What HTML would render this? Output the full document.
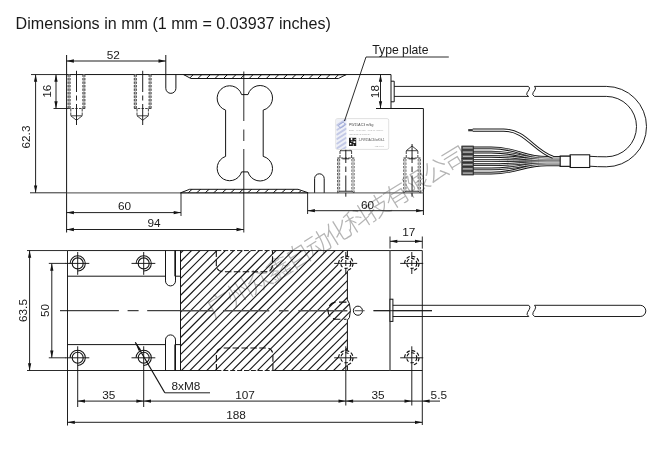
<!DOCTYPE html>
<html><head><meta charset="utf-8"><title>Dimensions</title>
<style>html,body{margin:0;padding:0;background:#fff;}body{width:659px;height:449px;overflow:hidden;font-family:"Liberation Sans",sans-serif;}svg{display:block;will-change:transform;}text{filter:grayscale(1);}</style>
</head><body>
<svg width="659" height="449" viewBox="0 0 659 449" font-family="'Liberation Sans', sans-serif">
<rect width="659" height="449" fill="#fff"/>
<g transform="translate(214.3 318.2) rotate(-31.8)" fill="#b4b4b4">
<text x="-1.05 22.05 45.15 68.25 91.35 114.45 137.55 160.65 183.75 206.85 229.95 253.05 276.15" y="0.8" font-size="25.6" font-weight="300" text-anchor="start" fill="#b4b4b4" font-family="'Liberation Sans', 'Noto Sans CJK SC', sans-serif">广州众鑫自动化科技有限公司</text>
</g>
<text x="15.6" y="28.8" font-size="16.1" text-anchor="start" fill="#1a1a1a">Dimensions in mm (1 mm = 0.03937 inches)</text>
<path d="M66.6 55 V232.5" stroke="#141414" stroke-width="1.0" fill="none" />
<path d="M66.6 74.55 H391.0 V108.5 M376 108.5 H423.4 V215" stroke="#141414" stroke-width="1.0" fill="none" />
<path d="M66.6 192.8 H181 M308.5 192.8 H423.4" stroke="#6c6c6c" stroke-width="1.35" fill="none" />
<path d="M183.6 74.55 L190.8 78.5 H338.4 L346.2 74.55" stroke="#141414" stroke-width="1.0" fill="none" />
<line x1="183.6" y1="74.55" x2="346.2" y2="74.55" stroke="#141414" stroke-width="1.15" />
<clipPath id="b1"><path d="M184.5 74.55 L191 78.5 H338.4 L345.5 74.55 Z"/></clipPath><g clip-path="url(#b1)">
<line x1="188.8" y1="79.0" x2="193.8" y2="74.05" stroke="#111" stroke-width="1.0" />
<line x1="197.35000000000002" y1="79.0" x2="202.35000000000002" y2="74.05" stroke="#111" stroke-width="1.0" />
<line x1="205.90000000000003" y1="79.0" x2="210.90000000000003" y2="74.05" stroke="#111" stroke-width="1.0" />
<line x1="214.45000000000005" y1="79.0" x2="219.45000000000005" y2="74.05" stroke="#111" stroke-width="1.0" />
<line x1="223.00000000000006" y1="79.0" x2="228.00000000000006" y2="74.05" stroke="#111" stroke-width="1.0" />
<line x1="231.55000000000007" y1="79.0" x2="236.55000000000007" y2="74.05" stroke="#111" stroke-width="1.0" />
<line x1="240.10000000000008" y1="79.0" x2="245.10000000000008" y2="74.05" stroke="#111" stroke-width="1.0" />
<line x1="248.6500000000001" y1="79.0" x2="253.6500000000001" y2="74.05" stroke="#111" stroke-width="1.0" />
<line x1="257.2000000000001" y1="79.0" x2="262.2000000000001" y2="74.05" stroke="#111" stroke-width="1.0" />
<line x1="265.7500000000001" y1="79.0" x2="270.7500000000001" y2="74.05" stroke="#111" stroke-width="1.0" />
<line x1="274.3000000000001" y1="79.0" x2="279.3000000000001" y2="74.05" stroke="#111" stroke-width="1.0" />
<line x1="282.85000000000014" y1="79.0" x2="287.85000000000014" y2="74.05" stroke="#111" stroke-width="1.0" />
<line x1="291.40000000000015" y1="79.0" x2="296.40000000000015" y2="74.05" stroke="#111" stroke-width="1.0" />
<line x1="299.95000000000016" y1="79.0" x2="304.95000000000016" y2="74.05" stroke="#111" stroke-width="1.0" />
<line x1="308.50000000000017" y1="79.0" x2="313.50000000000017" y2="74.05" stroke="#111" stroke-width="1.0" />
<line x1="317.0500000000002" y1="79.0" x2="322.0500000000002" y2="74.05" stroke="#111" stroke-width="1.0" />
<line x1="325.6000000000002" y1="79.0" x2="330.6000000000002" y2="74.05" stroke="#111" stroke-width="1.0" />
<line x1="334.1500000000002" y1="79.0" x2="339.1500000000002" y2="74.05" stroke="#111" stroke-width="1.0" />
</g>
<path d="M180.6 192.8 L189.6 189.3 H298 L308.3 192.8" stroke="#141414" stroke-width="1.0" fill="none" />
<line x1="180.6" y1="192.8" x2="308.3" y2="192.8" stroke="#141414" stroke-width="1.15" />
<clipPath id="b2"><path d="M181.5 192.8 L190 189.3 H297.8 L307 192.8 Z"/></clipPath><g clip-path="url(#b2)">
<line x1="179.15" y1="193.3" x2="184.15" y2="188.8" stroke="#111" stroke-width="1.0" />
<line x1="187.65" y1="193.3" x2="192.65" y2="188.8" stroke="#111" stroke-width="1.0" />
<line x1="196.15" y1="193.3" x2="201.15" y2="188.8" stroke="#111" stroke-width="1.0" />
<line x1="204.65" y1="193.3" x2="209.65" y2="188.8" stroke="#111" stroke-width="1.0" />
<line x1="213.15" y1="193.3" x2="218.15" y2="188.8" stroke="#111" stroke-width="1.0" />
<line x1="221.65" y1="193.3" x2="226.65" y2="188.8" stroke="#111" stroke-width="1.0" />
<line x1="230.15" y1="193.3" x2="235.15" y2="188.8" stroke="#111" stroke-width="1.0" />
<line x1="238.65" y1="193.3" x2="243.65" y2="188.8" stroke="#111" stroke-width="1.0" />
<line x1="247.15" y1="193.3" x2="252.15" y2="188.8" stroke="#111" stroke-width="1.0" />
<line x1="255.64999999999998" y1="193.3" x2="260.65" y2="188.8" stroke="#111" stroke-width="1.0" />
<line x1="264.15" y1="193.3" x2="269.15" y2="188.8" stroke="#111" stroke-width="1.0" />
<line x1="272.65" y1="193.3" x2="277.65" y2="188.8" stroke="#111" stroke-width="1.0" />
<line x1="281.15" y1="193.3" x2="286.15" y2="188.8" stroke="#111" stroke-width="1.0" />
<line x1="289.65" y1="193.3" x2="294.65" y2="188.8" stroke="#111" stroke-width="1.0" />
<line x1="298.15" y1="193.3" x2="303.15" y2="188.8" stroke="#111" stroke-width="1.0" />
</g>
<path d="M165.8 55 V88.3 A5.05 5.05 0 0 0 175.9 88.3 V74.55" stroke="#141414" stroke-width="1.0" fill="none" />
<path d="M314.6 192.8 V178.6 A4.8 4.8 0 0 1 324.2 178.6 V192.8" stroke="#141414" stroke-width="1.0" fill="none" />
<path d="M241.6 94.6 A12.5 12.5 0 1 0 225.6 110.1 V156.4 A12.5 12.5 0 1 0 241.6 171.9 H248 A12.5 12.5 0 1 0 263.2 156.4 V110.1 A12.5 12.5 0 1 0 248 94.6 Z" stroke="#141414" stroke-width="1.0" fill="none" />
<path d="M243.8 71.5 V121 M243.8 129.5 V141 M243.8 149 V232.5" stroke="#141414" stroke-width="0.9" fill="none" />
<line x1="69.1" y1="74.55" x2="69.1" y2="108.5" stroke="#bdbdbd" stroke-width="1.6" />
<line x1="68.1" y1="74.55" x2="68.1" y2="108.5" stroke="#3a3a3a" stroke-width="1.0" stroke-dasharray="2.3 1.2"/>
<line x1="70.1" y1="74.55" x2="70.1" y2="108.5" stroke="#3a3a3a" stroke-width="1.0" stroke-dasharray="2.3 1.2"/>
<line x1="70.8" y1="108.5" x2="70.8" y2="115.8" stroke="#3a3a3a" stroke-width="0.95" stroke-dasharray="3 1"/>
<line x1="83.9" y1="74.55" x2="83.9" y2="108.5" stroke="#bdbdbd" stroke-width="1.6" />
<line x1="84.9" y1="74.55" x2="84.9" y2="108.5" stroke="#3a3a3a" stroke-width="1.0" stroke-dasharray="2.3 1.2"/>
<line x1="82.9" y1="74.55" x2="82.9" y2="108.5" stroke="#3a3a3a" stroke-width="1.0" stroke-dasharray="2.3 1.2"/>
<line x1="82.2" y1="108.5" x2="82.2" y2="115.8" stroke="#3a3a3a" stroke-width="0.95" stroke-dasharray="3 1"/>
<line x1="67.9" y1="108.5" x2="85.1" y2="108.5" stroke="#3a3a3a" stroke-width="0.95" stroke-dasharray="2.5 1.2"/>
<line x1="70.8" y1="115.8" x2="82.2" y2="115.8" stroke="#3a3a3a" stroke-width="0.95" />
<path d="M70.8 115.8 L76.5 120.3 L82.2 115.8" stroke="#3a3a3a" stroke-width="0.95" fill="none" />
<path d="M76.5 70.8 V92 M76.5 95.5 V100.5 M76.5 104 V125" stroke="#141414" stroke-width="0.95" fill="none" />
<line x1="135.29999999999998" y1="74.55" x2="135.29999999999998" y2="108.5" stroke="#bdbdbd" stroke-width="1.6" />
<line x1="134.29999999999998" y1="74.55" x2="134.29999999999998" y2="108.5" stroke="#3a3a3a" stroke-width="1.0" stroke-dasharray="2.3 1.2"/>
<line x1="136.29999999999998" y1="74.55" x2="136.29999999999998" y2="108.5" stroke="#3a3a3a" stroke-width="1.0" stroke-dasharray="2.3 1.2"/>
<line x1="137.0" y1="108.5" x2="137.0" y2="115.8" stroke="#3a3a3a" stroke-width="0.95" stroke-dasharray="3 1"/>
<line x1="150.1" y1="74.55" x2="150.1" y2="108.5" stroke="#bdbdbd" stroke-width="1.6" />
<line x1="151.1" y1="74.55" x2="151.1" y2="108.5" stroke="#3a3a3a" stroke-width="1.0" stroke-dasharray="2.3 1.2"/>
<line x1="149.1" y1="74.55" x2="149.1" y2="108.5" stroke="#3a3a3a" stroke-width="1.0" stroke-dasharray="2.3 1.2"/>
<line x1="148.39999999999998" y1="108.5" x2="148.39999999999998" y2="115.8" stroke="#3a3a3a" stroke-width="0.95" stroke-dasharray="3 1"/>
<line x1="134.1" y1="108.5" x2="151.29999999999998" y2="108.5" stroke="#3a3a3a" stroke-width="0.95" stroke-dasharray="2.5 1.2"/>
<line x1="137.0" y1="115.8" x2="148.39999999999998" y2="115.8" stroke="#3a3a3a" stroke-width="0.95" />
<path d="M137.0 115.8 L142.7 120.3 L148.39999999999998 115.8" stroke="#3a3a3a" stroke-width="0.95" fill="none" />
<path d="M142.7 70.8 V92 M142.7 95.5 V100.5 M142.7 104 V125" stroke="#141414" stroke-width="0.95" fill="none" />
<line x1="337.6" y1="192.8" x2="337.6" y2="158.0" stroke="#3a3a3a" stroke-width="1.0" stroke-dasharray="2.3 1.2"/>
<line x1="339.6" y1="192.8" x2="339.6" y2="158.0" stroke="#3a3a3a" stroke-width="1.0" stroke-dasharray="2.3 1.2"/>
<line x1="338.6" y1="192.8" x2="338.6" y2="158.0" stroke="#bdbdbd" stroke-width="1.6" />
<line x1="340.0" y1="158.0" x2="340.0" y2="150.7" stroke="#3a3a3a" stroke-width="0.95" stroke-dasharray="3 1"/>
<line x1="354.0" y1="192.8" x2="354.0" y2="158.0" stroke="#3a3a3a" stroke-width="1.0" stroke-dasharray="2.3 1.2"/>
<line x1="352.0" y1="192.8" x2="352.0" y2="158.0" stroke="#3a3a3a" stroke-width="1.0" stroke-dasharray="2.3 1.2"/>
<line x1="353.0" y1="192.8" x2="353.0" y2="158.0" stroke="#bdbdbd" stroke-width="1.6" />
<line x1="351.6" y1="158.0" x2="351.6" y2="150.7" stroke="#3a3a3a" stroke-width="0.95" stroke-dasharray="3 1"/>
<line x1="337.2" y1="158.0" x2="354.40000000000003" y2="158.0" stroke="#3a3a3a" stroke-width="0.95" stroke-dasharray="2.5 1.2"/>
<line x1="340.0" y1="150.7" x2="351.6" y2="150.7" stroke="#3a3a3a" stroke-width="0.95" />
<path d="M340.0 150.7 L345.8 146.0 L351.6 150.7" stroke="#3a3a3a" stroke-width="0.95" fill="none" />
<path d="M345.8 144.0 V163 M345.8 166.5 V172 M345.8 175.5 V196.7" stroke="#141414" stroke-width="0.95" fill="none" />
<line x1="342.40000000000003" y1="158.8" x2="349.2" y2="158.8" stroke="#141414" stroke-width="0.95" />
<path d="M337.6 192.8 L339.8 191.20000000000002 H351.8 L354.0 192.8" stroke="#3a3a3a" stroke-width="0.9" fill="#999" />
<line x1="403.85" y1="192.8" x2="403.85" y2="158.0" stroke="#3a3a3a" stroke-width="1.0" stroke-dasharray="2.3 1.2"/>
<line x1="405.85" y1="192.8" x2="405.85" y2="158.0" stroke="#3a3a3a" stroke-width="1.0" stroke-dasharray="2.3 1.2"/>
<line x1="404.85" y1="192.8" x2="404.85" y2="158.0" stroke="#bdbdbd" stroke-width="1.6" />
<line x1="406.25" y1="158.0" x2="406.25" y2="150.7" stroke="#3a3a3a" stroke-width="0.95" stroke-dasharray="3 1"/>
<line x1="420.25" y1="192.8" x2="420.25" y2="158.0" stroke="#3a3a3a" stroke-width="1.0" stroke-dasharray="2.3 1.2"/>
<line x1="418.25" y1="192.8" x2="418.25" y2="158.0" stroke="#3a3a3a" stroke-width="1.0" stroke-dasharray="2.3 1.2"/>
<line x1="419.25" y1="192.8" x2="419.25" y2="158.0" stroke="#bdbdbd" stroke-width="1.6" />
<line x1="417.85" y1="158.0" x2="417.85" y2="150.7" stroke="#3a3a3a" stroke-width="0.95" stroke-dasharray="3 1"/>
<line x1="403.45" y1="158.0" x2="420.65000000000003" y2="158.0" stroke="#3a3a3a" stroke-width="0.95" stroke-dasharray="2.5 1.2"/>
<line x1="406.25" y1="150.7" x2="417.85" y2="150.7" stroke="#3a3a3a" stroke-width="0.95" />
<path d="M406.25 150.7 L412.05 146.0 L417.85 150.7" stroke="#3a3a3a" stroke-width="0.95" fill="none" />
<path d="M412.05 144.0 V163 M412.05 166.5 V172 M412.05 175.5 V196.7" stroke="#141414" stroke-width="0.95" fill="none" />
<line x1="408.65000000000003" y1="158.8" x2="415.45" y2="158.8" stroke="#141414" stroke-width="0.95" />
<path d="M403.85 192.8 L406.05 191.20000000000002 H418.05 L420.25 192.8" stroke="#3a3a3a" stroke-width="0.9" fill="#999" />
<path d="M391 81.2 H394.2 V101.8 H391" stroke="#141414" stroke-width="1.0" fill="none" />
<path d="M394.2 86.4 H528.4 M394.2 96.4 H528.8" stroke="#141414" stroke-width="0.95" fill="none" />
<path d="M528.4 86.4 Q530.5 87.80 528.9 90.00 L527.1 92.70 Q525.6999999999999 94.80 528.4 96.4" stroke="#141414" stroke-width="0.95" fill="none" />
<path d="M534.4 86.4 Q536.5 87.80 534.9 90.00 L533.1 92.70 Q531.6999999999999 94.80 534.4 96.4" stroke="#141414" stroke-width="0.95" fill="none" />
<path d="M534.4 86.4 H606.3 A40.2 40.2 0 0 1 606.3 166.8 Q597 166.8 589.7 166.2" stroke="#141414" stroke-width="0.95" fill="none" />
<path d="M534.4 96.4 H606.3 A30.2 30.2 0 0 1 606.3 156.8 Q597 156.8 589.7 156.3" stroke="#141414" stroke-width="0.95" fill="none" />
<rect x="570.1" y="154.8" width="19.6" height="12.7" fill="#fff" stroke="#141414" stroke-width="1.05"/>
<rect x="560.2" y="156.2" width="9.9" height="10.1" fill="#fff" stroke="#141414" stroke-width="1.05"/>
<path d="M473.3 147.9 H491 C517 147.9 523 157.4 547 157.4 H560.4" stroke="#111" stroke-width="2.7" fill="none" />
<path d="M473.3 152.1 H491 C517 152.1 523 158.7 547 158.7 H560.4" stroke="#111" stroke-width="2.7" fill="none" />
<path d="M473.3 156.3 H491 C517 156.3 523 159.9 547 159.9 H560.4" stroke="#111" stroke-width="2.7" fill="none" />
<path d="M473.3 160.5 H491 C517 160.5 523 161.2 547 161.2 H560.4" stroke="#111" stroke-width="2.7" fill="none" />
<path d="M473.3 164.7 H491 C517 164.7 523 162.4 547 162.4 H560.4" stroke="#111" stroke-width="2.7" fill="none" />
<path d="M473.3 168.9 H491 C517 168.9 523 163.7 547 163.7 H560.4" stroke="#111" stroke-width="2.7" fill="none" />
<path d="M473.3 173.1 H491 C517 173.1 523 164.9 547 164.9 H560.4" stroke="#111" stroke-width="2.7" fill="none" />
<path d="M473.3 147.9 H491 C517 147.9 523 157.4 547 157.4 H560.4" stroke="#fff" stroke-width="0.8" fill="none" />
<path d="M473.3 152.1 H491 C517 152.1 523 158.7 547 158.7 H560.4" stroke="#fff" stroke-width="0.8" fill="none" />
<path d="M473.3 156.3 H491 C517 156.3 523 159.9 547 159.9 H560.4" stroke="#fff" stroke-width="0.8" fill="none" />
<path d="M473.3 160.5 H491 C517 160.5 523 161.2 547 161.2 H560.4" stroke="#fff" stroke-width="0.8" fill="none" />
<path d="M473.3 164.7 H491 C517 164.7 523 162.4 547 162.4 H560.4" stroke="#fff" stroke-width="0.8" fill="none" />
<path d="M473.3 168.9 H491 C517 168.9 523 163.7 547 163.7 H560.4" stroke="#fff" stroke-width="0.8" fill="none" />
<path d="M473.3 173.1 H491 C517 173.1 523 164.9 547 164.9 H560.4" stroke="#fff" stroke-width="0.8" fill="none" />
<rect x="461.8" y="146.0" width="11.6" height="3.8" fill="#5a5a5a" stroke="#1c1c1c" stroke-width="0.7"/>
<line x1="463" y1="147.9" x2="472.5" y2="147.9" stroke="#d8d8d8" stroke-width="0.9"/>
<rect x="461.8" y="150.2" width="11.6" height="3.8" fill="#5a5a5a" stroke="#1c1c1c" stroke-width="0.7"/>
<line x1="463" y1="152.1" x2="472.5" y2="152.1" stroke="#d8d8d8" stroke-width="0.9"/>
<rect x="461.8" y="154.4" width="11.6" height="3.8" fill="#5a5a5a" stroke="#1c1c1c" stroke-width="0.7"/>
<line x1="463" y1="156.3" x2="472.5" y2="156.3" stroke="#d8d8d8" stroke-width="0.9"/>
<rect x="461.8" y="158.6" width="11.6" height="3.8" fill="#5a5a5a" stroke="#1c1c1c" stroke-width="0.7"/>
<line x1="463" y1="160.5" x2="472.5" y2="160.5" stroke="#d8d8d8" stroke-width="0.9"/>
<rect x="461.8" y="162.8" width="11.6" height="3.8" fill="#5a5a5a" stroke="#1c1c1c" stroke-width="0.7"/>
<line x1="463" y1="164.7" x2="472.5" y2="164.7" stroke="#d8d8d8" stroke-width="0.9"/>
<rect x="461.8" y="167.0" width="11.6" height="3.8" fill="#5a5a5a" stroke="#1c1c1c" stroke-width="0.7"/>
<line x1="463" y1="168.9" x2="472.5" y2="168.9" stroke="#d8d8d8" stroke-width="0.9"/>
<rect x="461.8" y="171.2" width="11.6" height="3.8" fill="#5a5a5a" stroke="#1c1c1c" stroke-width="0.7"/>
<line x1="463" y1="173.1" x2="472.5" y2="173.1" stroke="#d8d8d8" stroke-width="0.9"/>
<path d="M472.7 130.1 H503.5 C526 130.1 533 150.5 553 157.3" stroke="#161616" stroke-width="3.1" fill="none" />
<path d="M472.7 130.1 H503.5 C526 130.1 533 150.5 553 157.3" stroke="#fff" stroke-width="1.2" fill="none" />
<path d="M468.2 130.2 H472.8" stroke="#333" stroke-width="2.2" fill="none" />
<rect x="560.2" y="156.2" width="9.9" height="10.1" fill="#fff" stroke="#141414" stroke-width="1.05"/>
<rect x="335.8" y="118.6" width="52.9" height="30.8" rx="1.6" fill="#fefefe" stroke="#d2d2d2" stroke-width="0.7"/>
<rect x="336.3" y="119.1" width="10.2" height="29.8" rx="1.2" fill="#eef0f7"/>
<clipPath id="tp"><rect x="336.3" y="119.1" width="10.2" height="29.8"/></clipPath><g clip-path="url(#tp)">
<rect x="335.5" y="121.5" width="12" height="1.9" fill="#c3c9e6" transform="rotate(-33 341.4 122.5)"/>
<rect x="335.5" y="126.1" width="12" height="1.9" fill="#c3c9e6" transform="rotate(-33 341.4 127.1)"/>
<rect x="335.5" y="130.7" width="12" height="1.9" fill="#c3c9e6" transform="rotate(-33 341.4 131.7)"/>
<rect x="335.5" y="135.3" width="12" height="1.9" fill="#c3c9e6" transform="rotate(-33 341.4 136.3)"/>
<rect x="335.5" y="139.9" width="12" height="1.9" fill="#c3c9e6" transform="rotate(-33 341.4 140.9)"/>
<rect x="335.5" y="144.5" width="12" height="1.9" fill="#c3c9e6" transform="rotate(-33 341.4 145.5)"/>
<rect x="335.5" y="149.1" width="12" height="1.9" fill="#c3c9e6" transform="rotate(-33 341.4 150.1)"/>
<rect x="338.6" y="123.3" width="6.5" height="3.6" rx="1.6" fill="none" stroke="#9aa5d6" stroke-width="0.9" transform="rotate(-33 341.8 125.1)"/>
</g>
<text x="349" y="125.6" font-size="3.45" text-anchor="start" fill="#4a4a4a">PW15AC3 m/kg</text>
<text x="349" y="131.0" font-size="1.95" text-anchor="start" fill="#a2a2a2">Emax = xx kg    Vmin = 0.5 g          0.1 V/kg  xxx</text>
<text x="349" y="135.4" font-size="1.95" text-anchor="start" fill="#a2a2a2">HBM GmbH      D-64293  DA</text>
<rect x="349" y="137.8" width="7.2" height="8.2" fill="#1e1e1e"/>
<path d="M350.8 137.8 v2.2 h1.5 v-2.2z M353.4 141.2 h2 v1.7 h-2z M349.9 142.9 h1.5 v1.6 h-1.5z M354.6 139 h1 v1.1 h-1z M351.4 140.8 h1 v1 h-1z M352.8 144.4 h1.2 v1 h-1.2z" fill="#fff"/>
<text x="358.6" y="141.2" font-size="2.85" text-anchor="start" fill="#4a4a4a">1-PW15AC3/xxKG-1</text>
<text x="374.8" y="146.9" font-size="1.9" text-anchor="start" fill="#8a8a8a">year    XXXX</text>
<path d="M344.5 121 L366 57 H448.8" stroke="#141414" stroke-width="0.9" fill="none" />
<text x="372.3" y="54.2" font-size="12.2" text-anchor="start" fill="#1a1a1a">Type plate</text>
<line x1="66.6" y1="61" x2="165.8" y2="61" stroke="#141414" stroke-width="0.95" />
<polygon points="66.60,61.00 73.90,59.35 73.90,62.65" fill="#141414"/>
<polygon points="165.80,61.00 158.50,59.35 158.50,62.65" fill="#141414"/>
<text x="113.2" y="58.9" font-size="11.8" text-anchor="middle" fill="#1a1a1a">52</text>
<line x1="56" y1="74.55" x2="56" y2="108.5" stroke="#141414" stroke-width="0.95" />
<polygon points="56.00,74.55 54.35,81.85 57.65,81.85" fill="#141414"/>
<polygon points="56.00,108.50 54.35,101.20 57.65,101.20" fill="#141414"/>
<text x="50.8" y="91.2" font-size="11.8" text-anchor="middle" fill="#1a1a1a" transform="rotate(-90 50.8 91.2)">16</text>
<line x1="53.5" y1="108.5" x2="68" y2="108.5" stroke="#141414" stroke-width="0.9" />
<line x1="35.6" y1="74.55" x2="35.6" y2="192.8" stroke="#141414" stroke-width="0.95" />
<polygon points="35.60,74.55 33.95,81.85 37.25,81.85" fill="#141414"/>
<polygon points="35.60,192.80 33.95,185.50 37.25,185.50" fill="#141414"/>
<text x="30.2" y="137" font-size="11.8" text-anchor="middle" fill="#1a1a1a" transform="rotate(-90 30.2 137)">62.3</text>
<line x1="31" y1="74.55" x2="66.6" y2="74.55" stroke="#141414" stroke-width="0.9" />
<line x1="30" y1="192.8" x2="66.6" y2="192.8" stroke="#141414" stroke-width="0.9" />
<line x1="380.5" y1="74.55" x2="380.5" y2="108.5" stroke="#141414" stroke-width="0.95" />
<polygon points="380.50,74.55 378.85,81.85 382.15,81.85" fill="#141414"/>
<polygon points="380.50,108.50 378.85,101.20 382.15,101.20" fill="#141414"/>
<text x="379.5" y="91.6" font-size="11.8" text-anchor="middle" fill="#1a1a1a" transform="rotate(-90 379.5 91.6)">18</text>
<line x1="181" y1="192.8" x2="181" y2="216" stroke="#141414" stroke-width="0.9" />
<line x1="66.6" y1="212.6" x2="181" y2="212.6" stroke="#141414" stroke-width="0.95" />
<polygon points="66.60,212.60 73.90,210.95 73.90,214.25" fill="#141414"/>
<polygon points="181.00,212.60 173.70,210.95 173.70,214.25" fill="#141414"/>
<text x="124.5" y="210.3" font-size="11.8" text-anchor="middle" fill="#1a1a1a">60</text>
<line x1="66.6" y1="229.5" x2="243.8" y2="229.5" stroke="#141414" stroke-width="0.95" />
<polygon points="66.60,229.50 73.90,227.85 73.90,231.15" fill="#141414"/>
<polygon points="243.80,229.50 236.50,227.85 236.50,231.15" fill="#141414"/>
<text x="154" y="227.2" font-size="11.8" text-anchor="middle" fill="#1a1a1a">94</text>
<line x1="307.6" y1="192.8" x2="307.6" y2="214" stroke="#141414" stroke-width="0.9" />
<line x1="307.6" y1="210.7" x2="423.4" y2="210.7" stroke="#141414" stroke-width="0.95" />
<polygon points="307.60,210.70 314.90,209.05 314.90,212.35" fill="#141414"/>
<polygon points="423.40,210.70 416.10,209.05 416.10,212.35" fill="#141414"/>
<text x="367.5" y="208.5" font-size="11.8" text-anchor="middle" fill="#1a1a1a">60</text>
<clipPath id="hc"><path d="M180.5 250.55 H347.4 V299.8 L349.4 303.6 Q351.4 310.7 349.4 317.6 L347.4 320 V370.5 H180.5 Z"/></clipPath>
<g clip-path="url(#hc)">
<line x1="45.200000000000045" y1="380" x2="185.20000000000005" y2="240" stroke="#141414" stroke-width="1.1" />
<line x1="53.650000000000034" y1="380" x2="193.65000000000003" y2="240" stroke="#141414" stroke-width="1.1" />
<line x1="62.10000000000002" y1="380" x2="202.10000000000002" y2="240" stroke="#141414" stroke-width="1.1" />
<line x1="70.55000000000001" y1="380" x2="210.55" y2="240" stroke="#141414" stroke-width="1.1" />
<line x1="79.0" y1="380" x2="219.0" y2="240" stroke="#141414" stroke-width="1.1" />
<line x1="87.44999999999999" y1="380" x2="227.45" y2="240" stroke="#141414" stroke-width="1.1" />
<line x1="95.89999999999998" y1="380" x2="235.89999999999998" y2="240" stroke="#141414" stroke-width="1.1" />
<line x1="104.34999999999997" y1="380" x2="244.34999999999997" y2="240" stroke="#141414" stroke-width="1.1" />
<line x1="112.79999999999995" y1="380" x2="252.79999999999995" y2="240" stroke="#141414" stroke-width="1.1" />
<line x1="121.24999999999994" y1="380" x2="261.24999999999994" y2="240" stroke="#141414" stroke-width="1.1" />
<line x1="129.69999999999993" y1="380" x2="269.69999999999993" y2="240" stroke="#141414" stroke-width="1.1" />
<line x1="138.14999999999998" y1="380" x2="278.15" y2="240" stroke="#141414" stroke-width="1.1" />
<line x1="146.60000000000002" y1="380" x2="286.6" y2="240" stroke="#141414" stroke-width="1.1" />
<line x1="155.05000000000007" y1="380" x2="295.05000000000007" y2="240" stroke="#141414" stroke-width="1.1" />
<line x1="163.5000000000001" y1="380" x2="303.5000000000001" y2="240" stroke="#141414" stroke-width="1.1" />
<line x1="171.95000000000016" y1="380" x2="311.95000000000016" y2="240" stroke="#141414" stroke-width="1.1" />
<line x1="180.4000000000002" y1="380" x2="320.4000000000002" y2="240" stroke="#141414" stroke-width="1.1" />
<line x1="188.85000000000025" y1="380" x2="328.85000000000025" y2="240" stroke="#141414" stroke-width="1.1" />
<line x1="197.3000000000003" y1="380" x2="337.3000000000003" y2="240" stroke="#141414" stroke-width="1.1" />
<line x1="205.75000000000034" y1="380" x2="345.75000000000034" y2="240" stroke="#141414" stroke-width="1.1" />
<line x1="214.2000000000004" y1="380" x2="354.2000000000004" y2="240" stroke="#141414" stroke-width="1.1" />
<line x1="222.65000000000043" y1="380" x2="362.65000000000043" y2="240" stroke="#141414" stroke-width="1.1" />
<line x1="231.10000000000048" y1="380" x2="371.1000000000005" y2="240" stroke="#141414" stroke-width="1.1" />
<line x1="239.55000000000052" y1="380" x2="379.5500000000005" y2="240" stroke="#141414" stroke-width="1.1" />
<line x1="248.00000000000057" y1="380" x2="388.00000000000057" y2="240" stroke="#141414" stroke-width="1.1" />
<line x1="256.4500000000006" y1="380" x2="396.4500000000006" y2="240" stroke="#141414" stroke-width="1.1" />
<line x1="264.90000000000066" y1="380" x2="404.90000000000066" y2="240" stroke="#141414" stroke-width="1.1" />
<line x1="273.3500000000007" y1="380" x2="413.3500000000007" y2="240" stroke="#141414" stroke-width="1.1" />
<line x1="281.80000000000075" y1="380" x2="421.80000000000075" y2="240" stroke="#141414" stroke-width="1.1" />
<line x1="290.2500000000008" y1="380" x2="430.2500000000008" y2="240" stroke="#141414" stroke-width="1.1" />
<line x1="298.70000000000084" y1="380" x2="438.70000000000084" y2="240" stroke="#141414" stroke-width="1.1" />
<line x1="307.1500000000009" y1="380" x2="447.1500000000009" y2="240" stroke="#141414" stroke-width="1.1" />
<line x1="315.60000000000093" y1="380" x2="455.60000000000093" y2="240" stroke="#141414" stroke-width="1.1" />
<line x1="324.050000000001" y1="380" x2="464.050000000001" y2="240" stroke="#141414" stroke-width="1.1" />
<line x1="332.500000000001" y1="380" x2="472.500000000001" y2="240" stroke="#141414" stroke-width="1.1" />
<line x1="340.95000000000107" y1="380" x2="480.95000000000107" y2="240" stroke="#141414" stroke-width="1.1" />
<line x1="349.4000000000011" y1="380" x2="489.4000000000011" y2="240" stroke="#141414" stroke-width="1.1" />
</g>
<path d="M67.5 250.55 H216.3 M272.5 250.55 H422.3 V425 M67.5 250.55 V425.5 M67.5 370.5 H216.4 M272.9 370.5 H422.3" stroke="#141414" stroke-width="0.95" fill="none" />
<path d="M216.3 250.55 H272.5" stroke="#141414" stroke-width="0.95" fill="none" stroke-dasharray="5 1.9"/>
<path d="M216.4 370.5 H272.9" stroke="#141414" stroke-width="0.95" fill="none" stroke-dasharray="5 1.9"/>
<path d="M180.5 250.55 V370.5" stroke="#141414" stroke-width="1.0" fill="none" />
<path d="M347.4 250.55 V299.8 L349.4 303.6 Q351.4 310.7 349.4 317.6 L347.4 320 V370.5" stroke="#141414" stroke-width="1.0" fill="none" />
<path d="M390 250.55 V370.5" stroke="#555" stroke-width="1.4" fill="none" />
<path d="M67.5 276.2 H165.5 M175.5 276.2 H180.5 M67.5 344.6 H165.5 M175.5 344.6 H180.5" stroke="#141414" stroke-width="1.0" fill="none" />
<path d="M165.5 250.55 V280.9 A5 5 0 0 0 175.5 280.9 V250.55" stroke="#141414" stroke-width="1.0" fill="none" />
<path d="M165.5 370.5 V339.9 A5 5 0 0 1 175.5 339.9 V370.5" stroke="#141414" stroke-width="1.0" fill="none" />
<path d="M175.1 250.55 V276.2 M175.1 344.6 V370.5" stroke="#141414" stroke-width="1.5" fill="none" />
<path d="M60 310.7 H118.9 M127.6 310.7 H138.6 M147.2 310.7 H180.5" stroke="#141414" stroke-width="1.0" fill="none"/>
<path d="M180.5 310.7 H213.4 M223 310.7 H269.3 M278.9 310.7 H288.6 M298.3 310.7 H347.4" stroke="#505050" stroke-width="1.6" fill="none"/>
<path d="M373.5 310.7 H432" stroke="#141414" stroke-width="0.9" fill="none" />
<path d="M216.3 250.55 V264.4 Q216.3 271.7 223.6 271.7 H265.2 Q272.5 271.7 272.5 264.4 V250.55" stroke="#111" stroke-width="1.1" fill="none" stroke-dasharray="6.5 2.4"/>
<path d="M216.4 370.5 V355.3 Q216.4 348 223.7 348 H265.6 Q272.9 348 272.9 355.3 V370.5" stroke="#111" stroke-width="1.1" fill="none" stroke-dasharray="6.5 2.4"/>
<path d="M346.5 302.1 H336.6 A8.6 8.6 0 0 0 336.6 319.3 H346.5" stroke="#111" stroke-width="1.1" fill="none" stroke-dasharray="7.5 3.5"/>
<circle cx="357.9" cy="310.7" r="4.55" fill="#fff" stroke="#141414" stroke-width="1.0"/>
<line x1="354.6" y1="310.7" x2="364.6" y2="310.7" stroke="#555" stroke-width="1.1" />
<circle cx="77.7" cy="263.4" r="5.5" fill="none" stroke="#141414" stroke-width="1.1"/>
<path d="M70.10000000000001 263.4 A7.6 7.6 0 1 1 77.7 271.0" stroke="#141414" stroke-width="1.05" fill="none" />
<line x1="65.5" y1="263.4" x2="89.3" y2="263.4" stroke="#141414" stroke-width="0.95" />
<circle cx="77.7" cy="357.8" r="5.5" fill="none" stroke="#141414" stroke-width="1.1"/>
<path d="M70.10000000000001 357.8 A7.6 7.6 0 1 1 77.7 365.40000000000003" stroke="#141414" stroke-width="1.05" fill="none" />
<line x1="65.5" y1="357.8" x2="89.3" y2="357.8" stroke="#141414" stroke-width="0.95" />
<circle cx="143.7" cy="263.4" r="5.5" fill="none" stroke="#141414" stroke-width="1.1"/>
<path d="M136.1 263.4 A7.6 7.6 0 1 1 143.7 271.0" stroke="#141414" stroke-width="1.05" fill="none" />
<line x1="131.5" y1="263.4" x2="155.29999999999998" y2="263.4" stroke="#141414" stroke-width="0.95" />
<circle cx="143.7" cy="357.8" r="5.5" fill="none" stroke="#141414" stroke-width="1.1"/>
<path d="M136.1 357.8 A7.6 7.6 0 1 1 143.7 365.40000000000003" stroke="#141414" stroke-width="1.05" fill="none" />
<line x1="131.5" y1="357.8" x2="155.29999999999998" y2="357.8" stroke="#141414" stroke-width="0.95" />
<line x1="77.7" y1="252" x2="77.7" y2="274.8" stroke="#141414" stroke-width="0.95" />
<line x1="77.7" y1="346.3" x2="77.7" y2="407" stroke="#141414" stroke-width="0.95" />
<line x1="143.7" y1="252" x2="143.7" y2="274.8" stroke="#141414" stroke-width="0.95" />
<line x1="143.7" y1="346.3" x2="143.7" y2="407" stroke="#141414" stroke-width="0.95" />
<circle cx="345.8" cy="263.4" r="7.6" fill="#fff" stroke="none"/>
<path d="M338.6 263.4 A7.2 7.2 0 1 1 345.8 270.59999999999997" stroke="#111" stroke-width="1.15" fill="none" stroke-dasharray="3.6 2"/>
<circle cx="345.8" cy="263.4" r="5.0" fill="none" stroke="#111" stroke-width="1.1" stroke-dasharray="3.4 2.2"/>
<line x1="334.2" y1="263.4" x2="357.2" y2="263.4" stroke="#141414" stroke-width="0.95" />
<circle cx="345.8" cy="357.8" r="7.6" fill="#fff" stroke="none"/>
<path d="M338.6 357.8 A7.2 7.2 0 1 1 345.8 365.0" stroke="#111" stroke-width="1.15" fill="none" stroke-dasharray="3.6 2"/>
<circle cx="345.8" cy="357.8" r="5.0" fill="none" stroke="#111" stroke-width="1.1" stroke-dasharray="3.4 2.2"/>
<line x1="334.2" y1="357.8" x2="357.2" y2="357.8" stroke="#141414" stroke-width="0.95" />
<circle cx="411.8" cy="263.4" r="7.6" fill="#fff" stroke="none"/>
<path d="M404.6 263.4 A7.2 7.2 0 1 1 411.8 270.59999999999997" stroke="#111" stroke-width="1.15" fill="none" stroke-dasharray="3.6 2"/>
<circle cx="411.8" cy="263.4" r="5.0" fill="none" stroke="#111" stroke-width="1.1" stroke-dasharray="3.4 2.2"/>
<line x1="400.2" y1="263.4" x2="423.2" y2="263.4" stroke="#141414" stroke-width="0.95" />
<circle cx="411.8" cy="357.8" r="7.6" fill="#fff" stroke="none"/>
<path d="M404.6 357.8 A7.2 7.2 0 1 1 411.8 365.0" stroke="#111" stroke-width="1.15" fill="none" stroke-dasharray="3.6 2"/>
<circle cx="411.8" cy="357.8" r="5.0" fill="none" stroke="#111" stroke-width="1.1" stroke-dasharray="3.4 2.2"/>
<line x1="400.2" y1="357.8" x2="423.2" y2="357.8" stroke="#141414" stroke-width="0.95" />
<line x1="345.8" y1="252" x2="345.8" y2="274.8" stroke="#141414" stroke-width="0.95" stroke-dasharray="6 2"/>
<line x1="345.8" y1="346.3" x2="345.8" y2="405.5" stroke="#141414" stroke-width="0.95" />
<line x1="411.8" y1="252" x2="411.8" y2="274.8" stroke="#141414" stroke-width="0.95" stroke-dasharray="6 2"/>
<line x1="411.8" y1="346.3" x2="411.8" y2="405.5" stroke="#141414" stroke-width="0.95" />
<rect x="390" y="299.2" width="2.9" height="22.2" fill="#fff" stroke="#141414" stroke-width="1.0"/>
<path d="M392.8 305.3 H528.8 M392.8 316.5 H528.8" stroke="#141414" stroke-width="0.95" fill="none" />
<path d="M528.8 305.3 Q530.9 306.87 529.3 309.33 L527.5 312.36 Q526.0999999999999 314.71 528.8 316.5" stroke="#141414" stroke-width="0.95" fill="none" />
<path d="M534.5 305.3 Q536.6 306.87 535.0 309.33 L533.2 312.36 Q531.8 314.71 534.5 316.5" stroke="#141414" stroke-width="0.95" fill="none" />
<path d="M534.5 305.3 H640.2 A5.6 5.6 0 0 1 640.2 316.5 H534.5" stroke="#141414" stroke-width="0.95" fill="none" />
<path d="M373.5 310.7 H432" stroke="#141414" stroke-width="0.9" fill="none" />
<line x1="27" y1="250.55" x2="67.5" y2="250.55" stroke="#141414" stroke-width="0.9" />
<line x1="27" y1="370.5" x2="67.5" y2="370.5" stroke="#141414" stroke-width="0.9" />
<line x1="29.6" y1="250.55" x2="29.6" y2="370.5" stroke="#141414" stroke-width="0.95" />
<polygon points="29.60,250.55 27.95,257.85 31.25,257.85" fill="#141414"/>
<polygon points="29.60,370.50 27.95,363.20 31.25,363.20" fill="#141414"/>
<text x="27.2" y="310.5" font-size="11.8" text-anchor="middle" fill="#1a1a1a" transform="rotate(-90 27.2 310.5)">63.5</text>
<line x1="48.8" y1="263.4" x2="66" y2="263.4" stroke="#141414" stroke-width="0.9" />
<line x1="48.8" y1="357.8" x2="66" y2="357.8" stroke="#141414" stroke-width="0.9" />
<line x1="51.8" y1="263.4" x2="51.8" y2="357.8" stroke="#141414" stroke-width="0.95" />
<polygon points="51.80,263.40 50.15,270.70 53.45,270.70" fill="#141414"/>
<polygon points="51.80,357.80 50.15,350.50 53.45,350.50" fill="#141414"/>
<text x="49.4" y="310.5" font-size="11.8" text-anchor="middle" fill="#1a1a1a" transform="rotate(-90 49.4 310.5)">50</text>
<line x1="390" y1="236.5" x2="390" y2="248.6" stroke="#141414" stroke-width="0.9" />
<line x1="422.3" y1="236.5" x2="422.3" y2="248.6" stroke="#141414" stroke-width="0.9" />
<line x1="390" y1="241.3" x2="422.3" y2="241.3" stroke="#141414" stroke-width="0.95" />
<polygon points="390.00,241.30 397.30,239.65 397.30,242.95" fill="#141414"/>
<polygon points="422.30,241.30 415.00,239.65 415.00,242.95" fill="#141414"/>
<text x="408.8" y="235.6" font-size="11.8" text-anchor="middle" fill="#1a1a1a">17</text>
<line x1="77.7" y1="401.1" x2="440" y2="401.1" stroke="#141414" stroke-width="0.95" />
<polygon points="77.70,401.10 85.00,399.45 85.00,402.75" fill="#141414"/>
<polygon points="143.70,401.10 136.40,399.45 136.40,402.75" fill="#141414"/>
<polygon points="143.70,401.10 151.00,399.45 151.00,402.75" fill="#141414"/>
<polygon points="345.80,401.10 338.50,399.45 338.50,402.75" fill="#141414"/>
<polygon points="345.80,401.10 353.10,399.45 353.10,402.75" fill="#141414"/>
<polygon points="411.80,401.10 404.50,399.45 404.50,402.75" fill="#141414"/>
<polygon points="422.30,401.10 429.60,399.45 429.60,402.75" fill="#141414"/>
<text x="108.8" y="398.8" font-size="11.8" text-anchor="middle" fill="#1a1a1a">35</text>
<text x="245" y="398.9" font-size="11.8" text-anchor="middle" fill="#1a1a1a">107</text>
<text x="378" y="398.9" font-size="11.8" text-anchor="middle" fill="#1a1a1a">35</text>
<text x="438.8" y="398.9" font-size="11.8" text-anchor="middle" fill="#1a1a1a">5.5</text>
<line x1="67.5" y1="422.3" x2="422.3" y2="422.3" stroke="#141414" stroke-width="0.95" />
<polygon points="67.50,422.30 74.80,420.65 74.80,423.95" fill="#141414"/>
<polygon points="422.30,422.30 415.00,420.65 415.00,423.95" fill="#141414"/>
<text x="236" y="419.4" font-size="11.8" text-anchor="middle" fill="#1a1a1a">188</text>
<path d="M135.3 342.3 L164.8 392.8" stroke="#141414" stroke-width="1.2" fill="none" />
<path d="M164.8 392.8 H210" stroke="#141414" stroke-width="0.95" fill="none" />
<polygon points="135.1,341.9 141.05,349.4 138.65,350.8" fill="#141414"/>
<text x="171.5" y="390.2" font-size="11.8" text-anchor="start" fill="#1a1a1a">8xM8</text>
</svg>
</body></html>
